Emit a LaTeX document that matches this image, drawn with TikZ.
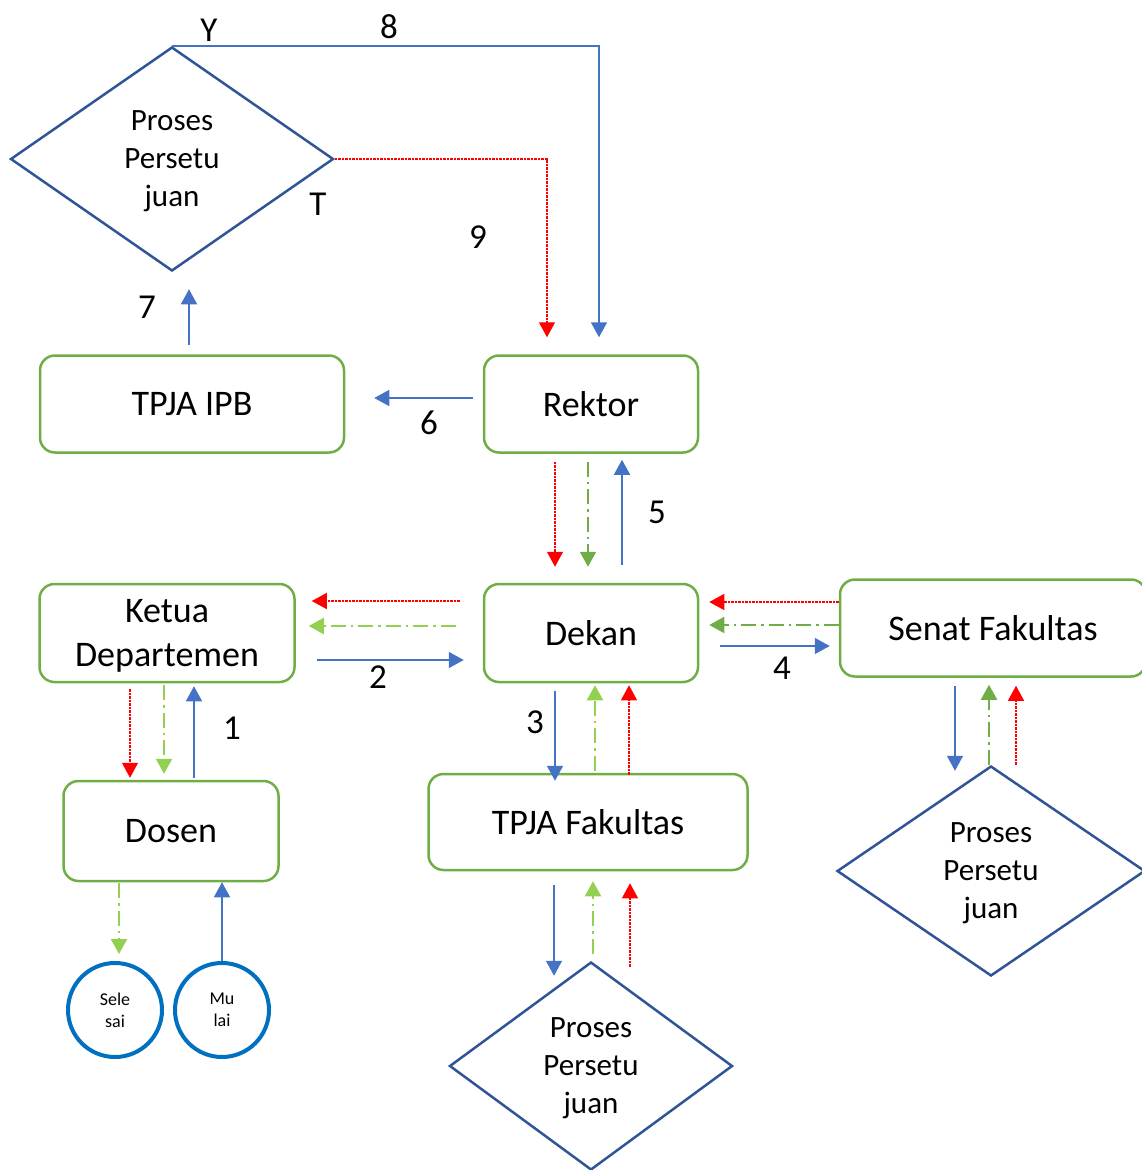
\documentclass[tikz,border=0pt]{standalone}
\usepackage{fontspec}
\setmainfont{Carlito}
\usetikzlibrary{shapes.geometric,arrows.meta}
\definecolor{boxgreen}{HTML}{70AD47}
\definecolor{arrblue}{HTML}{4472C4}
\definecolor{lightgreen}{HTML}{92D050}
\definecolor{diablue}{HTML}{2F5597}
\definecolor{circblue}{HTML}{0070C0}
\tikzset{
  box/.style={draw=boxgreen, line width=2.5pt, rounded corners=15pt,
    minimum width=#1, minimum height=97pt, inner sep=0pt, align=center,
    text depth=0pt, font=\fontsize{36}{44}\selectfont},
  dia/.style={diamond, draw=diablue, line width=2.5pt, minimum width=#1,
    inner sep=0pt, align=center, text depth=-4pt,
    font=\fontsize{31}{38}\selectfont},
  circ/.style={circle, draw=circblue, line width=4pt, minimum size=94pt,
    inner sep=0pt, align=center, font=\fontsize{18}{22}\selectfont},
  lbl/.style={font=\fontsize{35}{40}\selectfont, inner sep=0pt},
  tip/.style={-{Triangle[length=15pt,width=16pt]}},
  blueline/.style={tip, draw=arrblue, line width=1.5pt},
  redline/.style={tip, draw=red, line width=1.2pt,
    dash pattern=on 2.5pt off 1pt},
  greenline/.style={tip, draw=#1, line width=2pt,
    dash pattern=on 15pt off 5pt on 2.5pt off 5pt}
}
\begin{document}
\begin{tikzpicture}[x=1pt,y=-1pt]
\useasboundingbox (0,0) rectangle (1142,1170);

% boxes
\node[box=304pt] (ipb) at (192,404) {TPJA IPB};
\node[box=214pt] (rek) at (591,404) {Rektor};
\node[box=255pt, minimum height=98pt] (ket) at (167,633) {Ketua\\Departemen};
\node[box=214pt, minimum height=98pt] (dek) at (591,633) {Dekan};
\node[box=306pt] (sen) at (993,628) {Senat Fakultas};
\node[box=215pt, minimum height=100pt] (dos) at (171,831) {Dosen};
\node[box=319pt, minimum height=96pt] (tfk) at (588,822) {TPJA Fakultas};

% decisions
\node[dia=323pt, minimum height=224pt] (d1) at (172,159) {Proses\\Persetu\\juan};
\node[dia=308pt, minimum height=210pt] (d2) at (991,871) {Proses\\Persetu\\juan};
\node[dia=283pt, minimum height=208pt] (d3) at (591,1066) {Proses\\Persetu\\juan};

% start / end
\node[circ] (sel) at (115,1010) {Sele\\sai};
\node[circ] (mul) at (222,1010) {Mu\\lai};

% top loop
\draw[blueline, shorten >=17pt] (d1.north) -| ([xshift=8pt]rek.north);
\draw[redline, shorten >=17pt] (d1.east) -| ([xshift=-44pt]rek.north);
\draw[blueline, shorten <=9pt, shorten >=17pt]
  ([xshift=-3pt]ipb.north) -- ([xshift=-3pt]ipb.north |- d1.south);
\draw[blueline, shorten <=10pt, shorten >=29pt]
  ([yshift=6pt]rek.west) -- ([yshift=6pt]ipb.east);

% Rektor - Dekan
\draw[redline, shorten <=8pt, shorten >=16pt]
  ([xshift=-36pt]rek.south) -- ([xshift=-36pt]dek.north);
\draw[greenline=boxgreen, shorten <=8pt, shorten >=16pt]
  ([xshift=-3pt]rek.south) -- ([xshift=-3pt]dek.north);
\draw[blueline, shorten <=18pt, shorten >=6pt]
  ([xshift=31pt]dek.north) -- ([xshift=31pt]rek.south);

% Dekan - Ketua Departemen
\draw[redline, shorten <=23pt, shorten >=16pt]
  ([yshift=32pt]dek.west) -- ([yshift=32pt]ket.east);
\draw[greenline=lightgreen, shorten <=27pt, shorten >=13pt]
  ([yshift=7pt]dek.west) -- ([yshift=7pt]ket.east);
\draw[blueline, shorten <=21pt, shorten >=19pt]
  ([yshift=-27pt]ket.east) -- ([yshift=-27pt]dek.west);

% Senat Fakultas - Dekan
\draw[redline, shorten >=10pt]
  ([yshift=26pt]sen.west) -- ([yshift=26pt]sen.west -| dek.east);
\draw[greenline=boxgreen, shorten >=10pt]
  ([yshift=3pt]sen.west) -- ([yshift=3pt]sen.west -| dek.east);
\draw[blueline, shorten <=21pt, shorten >=9pt]
  ([yshift=-18pt]sen.west -| dek.east) -- ([yshift=-18pt]sen.west);

% Dekan - TPJA Fakultas
\draw[blueline, shorten <=8pt, shorten >=-8pt]
  ([xshift=-36pt]dek.south) -- ([xshift=-36pt]dek.south |- tfk.north);
\draw[greenline=lightgreen, shorten <=2pt, shorten >=2pt]
  ([xshift=4pt]dek.south |- tfk.north) -- ([xshift=4pt]dek.south);
\draw[redline, shorten <=-2pt, shorten >=2pt]
  ([xshift=38pt]dek.south |- tfk.north) -- ([xshift=38pt]dek.south);

% Ketua Departemen - Dosen
\draw[redline, shorten <=6pt, shorten >=2pt]
  ([xshift=-37pt]ket.south) -- ([xshift=-37pt]ket.south |- dos.north);
\draw[greenline=lightgreen, shorten <=2pt, shorten >=6pt]
  ([xshift=-3pt]ket.south) -- ([xshift=-3pt]ket.south |- dos.north);
\draw[blueline, shorten <=2pt, shorten >=3pt]
  ([xshift=27pt]ket.south |- dos.north) -- ([xshift=27pt]ket.south);

% Dosen - Mulai / Selesai
\draw[greenline=lightgreen, shorten <=1pt, shorten >=7pt]
  ([xshift=4pt]sel.north |- dos.south) -- ([xshift=4pt]sel.north);
\draw[blueline] (mul.north) -- (mul.north |- dos.south);

% TPJA Fakultas - Proses Persetujuan
\draw[blueline, shorten <=14pt, shorten >=-15pt]
  ([xshift=-37pt]d3.north |- tfk.south) -- ([xshift=-37pt]d3.north);
\draw[greenline=lightgreen, shorten <=7pt, shorten >=10pt]
  ([xshift=2pt]d3.north) -- ([xshift=2pt]d3.north |- tfk.south);
\draw[redline, shorten <=-6pt, shorten >=12pt]
  ([xshift=39pt]d3.north) -- ([xshift=39pt]d3.north |- tfk.south);

% Senat Fakultas - Proses Persetujuan
\draw[blueline, shorten <=8pt, shorten >=-6pt]
  ([xshift=-36pt]d2.north |- sen.south) -- ([xshift=-36pt]d2.north);
\draw[greenline=boxgreen, shorten >=7pt]
  ([xshift=-2pt]d2.north) -- ([xshift=-2pt]d2.north |- sen.south);
\draw[redline, shorten >=8pt]
  ([xshift=25pt]d2.north) -- ([xshift=25pt]d2.north |- sen.south);

% labels
\node[lbl] (ly) at (209,30) {Y};
\node[lbl] (l8) at (389,27) {8};
\node[lbl] (lt) at (318,204) {T};
\node[lbl] (l9) at (478,237) {9};
\node[lbl] (l7) at (147,307) {7};
\node[lbl] (l6) at (429,423) {6};
\node[lbl] (l5) at (657,512) {5};
\node[lbl] (l2) at (378,677) {2};
\node[lbl] (l4) at (782,668) {4};
\node[lbl] (l3) at (535,722) {3};
\node[lbl] (l1) at (232,728) {1};
\end{tikzpicture}
\end{document}
